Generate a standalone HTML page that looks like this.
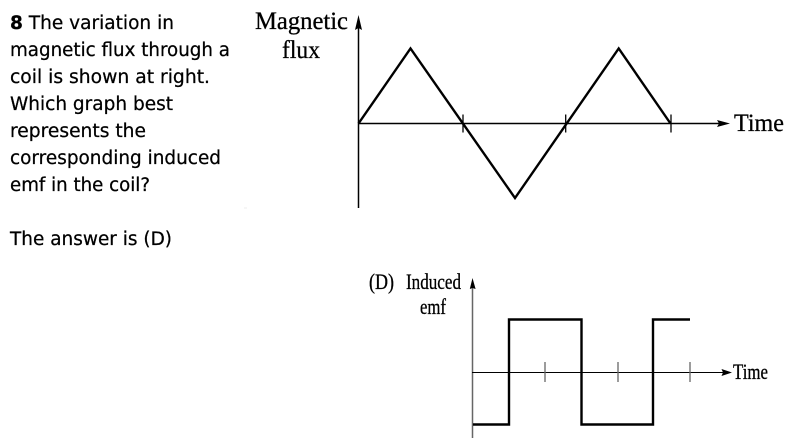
<!DOCTYPE html>
<html><head><meta charset="utf-8"><style>
html,body{margin:0;padding:0;background:#fff}
svg{display:block}
.t{font-family:"DejaVu Sans",sans-serif;font-size:18.5px;fill:#000;stroke:#000;stroke-width:.25px}
.s{font-family:"Liberation Serif",serif;fill:#000;stroke:#000;stroke-width:.3px}
</style></head><body>
<svg width="796" height="442" viewBox="0 0 796 442" xmlns="http://www.w3.org/2000/svg">
<g class="t">
<text x="10" y="29" textLength="164" lengthAdjust="spacingAndGlyphs"><tspan font-weight="bold">8</tspan> The variation in</text>
<text x="10" y="56" textLength="220" lengthAdjust="spacingAndGlyphs">magnetic flux through a</text>
<text x="10" y="83" textLength="200" lengthAdjust="spacingAndGlyphs">coil is shown at right.</text>
<text x="10" y="110" textLength="163" lengthAdjust="spacingAndGlyphs">Which graph best</text>
<text x="10" y="137" textLength="136" lengthAdjust="spacingAndGlyphs">represents the</text>
<text x="10" y="164" textLength="211" lengthAdjust="spacingAndGlyphs">corresponding induced</text>
<text x="10" y="191" textLength="140" lengthAdjust="spacingAndGlyphs">emf in the coil?</text>
<text x="10" y="245" textLength="162" lengthAdjust="spacingAndGlyphs">The answer is (D)</text>
</g>
<g class="s">
<text x="255" y="29" font-size="25" textLength="93" lengthAdjust="spacingAndGlyphs">Magnetic</text>
<text x="282" y="58" font-size="25" textLength="38" lengthAdjust="spacingAndGlyphs">flux</text>
<text x="734" y="131" font-size="25" textLength="50" lengthAdjust="spacingAndGlyphs">Time</text>
<text x="369" y="289" font-size="22" textLength="25" lengthAdjust="spacingAndGlyphs">(D)</text>
<text x="406" y="289" font-size="22" textLength="55" lengthAdjust="spacingAndGlyphs">Induced</text>
<text x="420" y="314" font-size="22" textLength="26" lengthAdjust="spacingAndGlyphs">emf</text>
<text x="733" y="379" font-size="22" textLength="35" lengthAdjust="spacingAndGlyphs">Time</text>
</g>
<g fill="none" stroke="#000">
<path d="M358.5 26V208" stroke-width="1.5"/>
<path d="M358 123.5H720" stroke-width="1.5"/>
<path d="M463 114.5V132.5M565.7 114.5V132.5M671 114.5V132.5" stroke-width="1.3"/>
<path d="M358.5 123.5L410.5 48.5L515 198L618.7 48.5L670.5 123.5" stroke-width="2.4"/>
<path d="M472.5 284V438" stroke-width="1.5" stroke="#666"/>
<path d="M472 372.5H723" stroke-width="1"/>
<path d="M545 362V382M618 362V382M690 362V382" stroke-width="1.3" stroke="#666"/>
<path d="M473 424.5H509V319.5H581.5V424.5H653V319.5H690" stroke-width="2.4"/>
</g>
<path d="M358.5 15L355 30L358.5 28L362 30ZM717 120L730 123.5L717 127L719 123.5ZM472.5 278L469.8 289L472.5 288L475.6 289ZM721.5 369L732 372.5L721.5 376L723 372.5Z" fill="#000"/>
<path d="M244 208H247" stroke="#eee"/>
</svg>
</body></html>
